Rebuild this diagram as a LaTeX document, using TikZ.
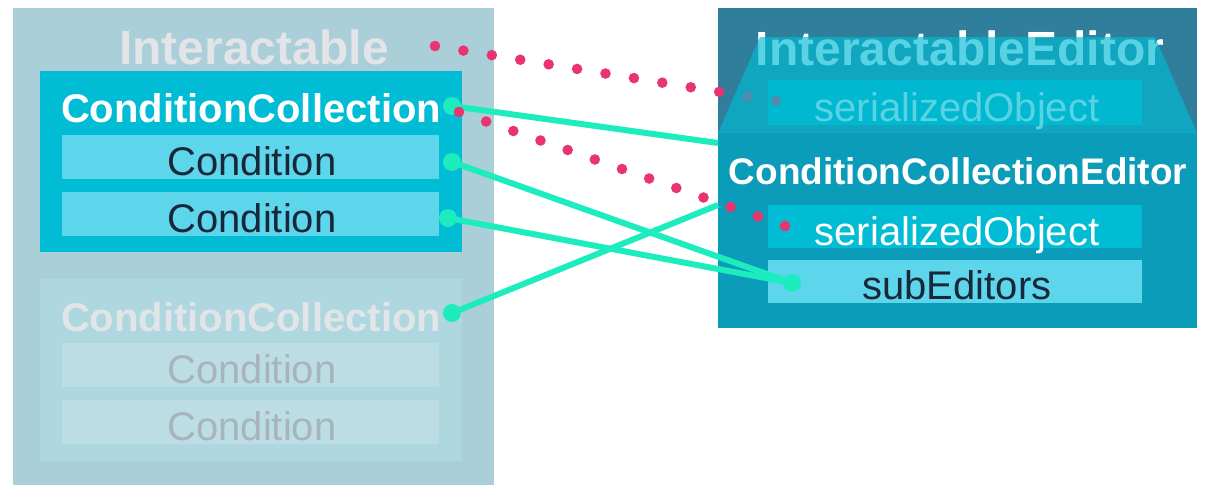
\documentclass[tikz,border=0pt]{standalone}
\usepackage{fontspec}
\setmainfont{Liberation Sans}
\usetikzlibrary{calc}
\definecolor{outerL}{HTML}{ABCFD8}
\definecolor{activeBox}{HTML}{00BCD4}
\definecolor{condBox}{HTML}{5DD6EC}
\definecolor{fadedBox}{HTML}{AFD7E0}
\definecolor{fadedCond}{HTML}{BDDDE4}
\definecolor{fadedCCText}{HTML}{E1E5E8}
\definecolor{fadedCondText}{HTML}{A7B4BC}
\definecolor{titleText}{HTML}{E2E4E8}
\definecolor{navy}{HTML}{18283A}
\definecolor{topDark}{HTML}{2F7E9B}
\definecolor{lowerBox}{HTML}{0A9CB9}
\definecolor{topSOBox}{HTML}{00B4CE}
\definecolor{lineGreen}{HTML}{1DEDBE}
\definecolor{dotPink}{HTML}{E8356F}
\tikzset{
  box/.style={rectangle, inner sep=0pt, outer sep=0pt, draw=none},
  lbl/.style={anchor=base, inner sep=0pt, outer sep=0pt},
  big/.style={font=\fontsize{48pt}{52pt}\selectfont\bfseries},
  mid/.style={font=\fontsize{40pt}{44pt}\selectfont\bfseries},
  cce/.style={font=\fontsize{37pt}{40pt}\selectfont\bfseries},
  reg/.style={font=\fontsize{40pt}{44pt}\selectfont},
  gline/.style={draw=lineGreen, line width=6pt},
  gdot/.style={fill=lineGreen},
  pdot/.style={fill=dotPink}
}
\begin{document}
\begin{tikzpicture}[x=1pt,y=-1pt]
\useasboundingbox (0,0) rectangle (1227,501);
\fill[white] (0,0) rectangle (1227,501);

% ---------- left: Interactable ----------
\node[box, fill=outerL, minimum width=481pt, minimum height=477pt] (interactable) at (253.5,246.5) {};
\node[lbl, big, text=titleText] (interactableT) at (254,64) {Interactable};

\node[box, fill=activeBox, minimum width=422pt, minimum height=181pt] (ccA) at (251,161.5) {};
\node[lbl, mid, text=white] (ccAT) at (251,122) {ConditionCollection};
\node[box, fill=condBox, minimum width=377pt, minimum height=44pt] (condA1) at (250.5,157) {};
\node[lbl, reg, text=navy] (condA1T) at (252,175) {Condition};
\node[box, fill=condBox, minimum width=377pt, minimum height=44pt] (condA2) at (250.5,214) {};
\node[lbl, reg, text=navy] (condA2T) at (252,232) {Condition};

\node[box, fill=fadedBox, minimum width=422pt, minimum height=182pt] (ccB) at (251,370) {};
\node[lbl, mid, text=fadedCCText] (ccBT) at (251,331) {ConditionCollection};
\node[box, fill=fadedCond, minimum width=377pt, minimum height=44pt] (condB1) at (250.5,365) {};
\node[lbl, reg, text=fadedCondText] (condB1T) at (252,383) {Condition};
\node[box, fill=fadedCond, minimum width=377pt, minimum height=44pt] (condB2) at (250.5,422) {};
\node[lbl, reg, text=fadedCondText] (condB2T) at (252,440) {Condition};

% ---------- right: InteractableEditor ----------
\node[box, fill=topDark, minimum width=479pt, minimum height=320pt] (ie) at (957.5,168) {};
\node[lbl, big, text=white] (ieT) at (960,65) {InteractableEditor};
\node[box, fill=topSOBox, minimum width=374pt, minimum height=45pt] (soTop) at (955,102.5) {};
\node[lbl, reg, text=white] (soTopT) at (957,121) {serializedObject};

% pink dotted link 1 (partly under the overlay)
\coordinate (p1a) at (435,46);
\coordinate (p1b) at (776,101);
\foreach \i in {0,...,12} \fill[pdot] ($(p1a)!\i/12!(p1b)$) circle[radius=5.3pt];

% translucent trapezoid
\fill[activeBox, opacity=0.65] (760,37) -- (1155,37) -- (1197,133) -- (718,133) -- cycle;

% lower: ConditionCollectionEditor
\node[box, fill=lowerBox, minimum width=479pt, minimum height=195pt] (cceBox) at (957.5,230.5) {};
\node[lbl, cce, text=white] (cceT) at (958,184) {ConditionCollectionEditor};
\node[box, fill=activeBox, minimum width=374pt, minimum height=43pt] (so) at (955,226.5) {};
\node[lbl, reg, text=white] (soT) at (957,245) {serializedObject};
\node[box, fill=condBox, minimum width=374pt, minimum height=43pt] (sub) at (955,281.5) {};
\node[lbl, reg, text=navy] (subT) at (957,299) {subEditors};

% ---------- connectors ----------
\coordinate (gCC) at (452,106);
\coordinate (gC1) at (452,162);
\coordinate (gC2) at (448,218);
\coordinate (gCCB) at (452,313);
\coordinate (gSub) at (792,283);
\coordinate (eTop) at (718,143);
\coordinate (eLow) at (718,205);

\draw[gline] (gCC) -- (eTop);
\draw[gline] (gC1) -- (gSub);
\draw[gline] (gC2) -- (gSub);
\draw[gline] (gCCB) -- (eLow);
\foreach \c in {gCC,gC1,gC2,gCCB,gSub} \fill[gdot] (\c) circle[radius=9pt];

% pink dotted link 2
\coordinate (p2a) at (459,112);
\coordinate (p2b) at (785,226);
\foreach \i in {0,...,12} \fill[pdot] ($(p2a)!\i/12!(p2b)$) circle[radius=5.3pt];
\end{tikzpicture}
\end{document}
